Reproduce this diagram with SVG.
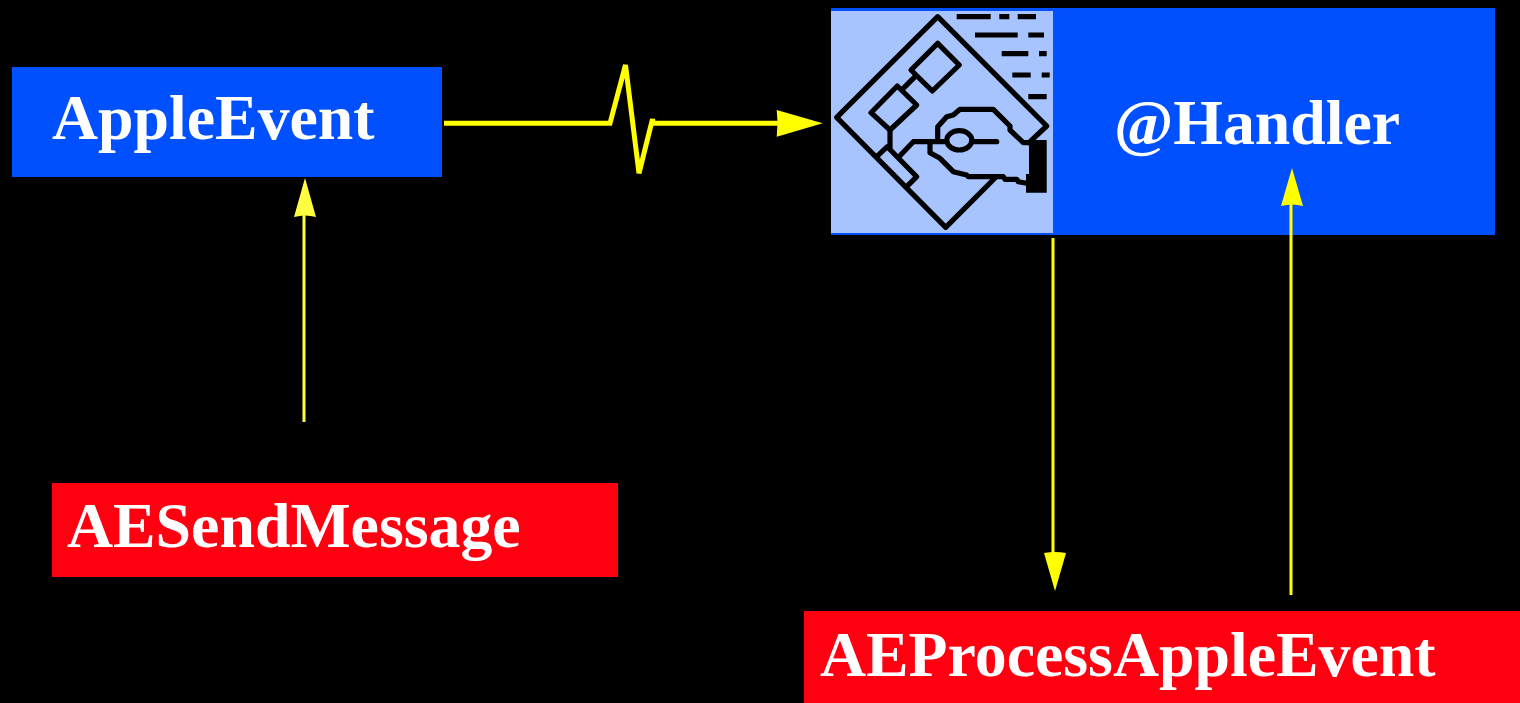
<svg xmlns="http://www.w3.org/2000/svg" width="1520" height="703" viewBox="0 0 1520 703">
<style>
.t{font-family:"Liberation Serif","Times New Roman",serif;font-weight:bold;font-size:63.800px;fill:#fff}
.blue{fill:#0050ff}.red{fill:#ff0010}
.ic{fill:none;stroke:#000;stroke-width:5.200;stroke-linejoin:round;stroke-linecap:round}
.d{fill:none;stroke:#000;stroke-width:5.200}
.thin{fill:none;stroke:#ffff00;stroke-width:3}
.head{fill:#ffff00}
</style>
<rect width="1520" height="703" fill="#000"/>
<g id="node-appleevent"><rect class="blue" x="12" y="67" width="430" height="110"/><text class="t" x="52" y="139.300">AppleEvent</text></g>
<g id="node-handler"><rect class="blue" x="831" y="8" width="664" height="227"/><rect fill="#a8c4ff" x="831" y="11" width="222" height="222"/>
<g id="handler-icon">
<path class="ic" d="M1029 142.700L1046.700 126L937.700 16.700L836.700 117.300L945.700 227.300L995 178"/>
<path class="ic" d="M937.700 43.300L959.300 65L932.300 91L911 70Z"/>
<path class="ic" d="M897.300 86L916.700 105L890 130L871 112.700Z"/>
<path class="ic" d="M914.300 77.300L903.300 88.300M890 130V148.300"/>
<path class="ic" d="M876.700 156.700L887.300 146.700L916.700 176.700L906.700 186.700"/>
<path class="ic" d="M899 156.700L913.300 141.700H943.300M973.300 141.700H996.700"/>
<ellipse class="ic" cx="959.300" cy="140.300" rx="12.500" ry="9.700"/>
<path class="ic" d="M937.700 138.300V126.700L946.700 116.700L953.300 115L960 109.300H993.300L1010 126V130L1023.300 142.700H1029"/>
<path class="ic" d="M930 141.700V152.700L940 158.300L953.300 171.700L966.700 175L968.300 176.700H1003.300L1005 179.300H1016.700L1018.300 181.700L1026.700 183.300"/>
<path fill="#000" d="M1029 140H1046.700V192.700H1026V174H1029Z"/>
<path class="d" d="M956.700 16.700H990.700M999.300 16.700H1009.300M1017.700 16.700H1036M975 35H1017.700M1028.300 35H1044M1001.700 53.700H1028.300M1039 53.700H1046.700M1012.300 75H1030.700M1041.700 75H1049.700M1028.300 96.700H1046.700"/>
</g>
<text class="t" x="1114" y="144.300">@Handler</text></g>
<g id="node-aesendmessage"><rect class="red" x="52" y="483" width="566" height="94"/><text class="t" x="67" y="546.700">AESendMessage</text></g>
<g id="node-aeprocessappleevent"><rect class="red" x="804" y="611" width="716" height="92"/><text class="t" x="820" y="675.500">AEProcessAppleEvent</text></g>
<g id="connectors">
<path fill="none" stroke="#ffff00" stroke-width="5" d="M444 123.300H610L625.500 65L639 173.300L652.500 119L653 123.300H778"/>
<path class="head" d="M776.700 110L822.700 123.300L776.700 136.700Q778.500 123.300 776.700 110Z"/>
<path class="thin" style="stroke:#ffff40" d="M304 422V214"/>
<path class="head" style="fill:#ffff40" d="M305 178L316 217Q305 214 294 217Z"/>
<path class="thin" d="M1053 238V556"/>
<path class="head" d="M1055 591L1066 553Q1055 551 1044 553Z"/>
<path class="thin" d="M1291 595V204"/>
<path class="head" d="M1292 168L1303 206Q1292 203 1281 206Z"/>
</g>
</svg>
